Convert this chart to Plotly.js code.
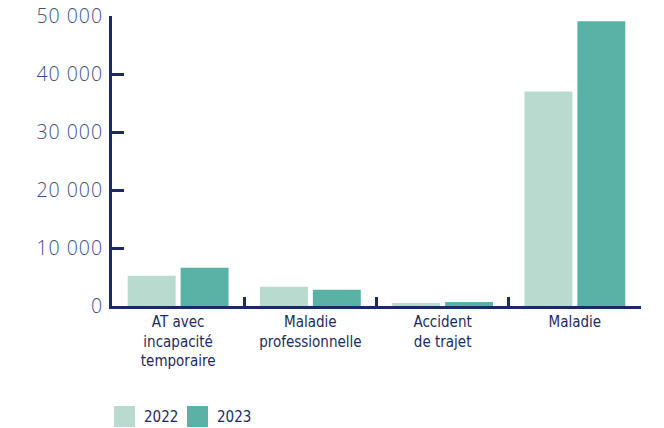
<!DOCTYPE html>
<html>
<head>
<meta charset="utf-8">
<script src="https://cdn.plot.ly/plotly-3.0.1.min.js"></script>
<style>html,body{margin:0;padding:0;background:#fff;}#chart{width:664px;height:428px;}
#chart .ytick text{letter-spacing:1px;}</style>
</head>
<body>
<div id="chart"></div>
<script>
var categories = ["AT avec<br>incapacité<br>temporaire", "Maladie<br>professionnelle", "Accident<br>de trajet", "Maladie"];
var seriesNames = ["2022", "2023"];
var values2022 = [5200, 3300, 500, 37000];
var values2023 = [6600, 2800, 700, 49100];
var yTicks = [0, 10000, 20000, 30000, 40000, 50000];

var colors = ["#b9dbcf", "#5ab2a6"];
var navy = "#1b2b5e";
var narrow = "'Liberation Sans Narrow', 'DejaVu Sans Condensed', Roboto, sans-serif";

var L = 112, R = 23, T = 16, B = 122, W = 664, H = 428;
var pw = W - L - R, ph = H - T - B;
function px(x) { return (x - L) / pw; }
function py(y) { return (H - B - y) / ph; }

var traces = [
  {type: "bar", name: seriesNames[0], x: categories, y: values2022, marker: {color: colors[0]}, showlegend: false, hoverinfo: "y"},
  {type: "bar", name: seriesNames[1], x: categories, y: values2023, marker: {color: colors[1]}, showlegend: false, hoverinfo: "y"}
];

var legendX = [114, 187];
var shapes = [], annotations = [];
for (var i = 0; i < seriesNames.length; i++) {
  shapes.push({type: "rect", xref: "paper", yref: "paper", x0: px(legendX[i]), x1: px(legendX[i] + 21), y0: py(406), y1: py(427), fillcolor: colors[i], line: {width: 0}});
  annotations.push({xref: "paper", yref: "paper", x: px(legendX[i] + 28), y: py(416.5), xanchor: "left", yanchor: "middle", showarrow: false, text: seriesNames[i], font: {family: narrow, size: 15, color: navy}});
}

var layout = {
  width: W, height: H,
  margin: {l: L, r: R, t: T, b: B, pad: 0},
  paper_bgcolor: "#fff", plot_bgcolor: "#fff",
  separators: ", ",
  barmode: "group",
  bargap: 0.2,
  bargroupgap: 0.094,
  showlegend: false,
  xaxis: {
    type: "category",
    showline: true, linecolor: navy, linewidth: 3,
    ticks: "inside", tickson: "boundaries", ticklen: 9, tickwidth: 3, tickcolor: navy,
    tickfont: {family: narrow, size: 15, color: navy},
    showgrid: false, zeroline: false, fixedrange: true
  },
  yaxis: {
    range: [0, 50000],
    tickvals: yTicks,
    tickformat: ",",
    showline: true, linecolor: navy, linewidth: 3,
    ticks: "inside", ticklen: 12, tickwidth: 3, tickcolor: navy,
    ticklabelstandoff: 2,
    tickfont: {family: "'Open Sans', sans-serif", size: 19.5, weight: 300, color: "#3f5080"},
    showgrid: false, zeroline: false, fixedrange: true
  },
  shapes: shapes,
  annotations: annotations
};

Plotly.newPlot("chart", traces, layout, {displayModeBar: false, staticPlot: true});
</script>
</body>
</html>
